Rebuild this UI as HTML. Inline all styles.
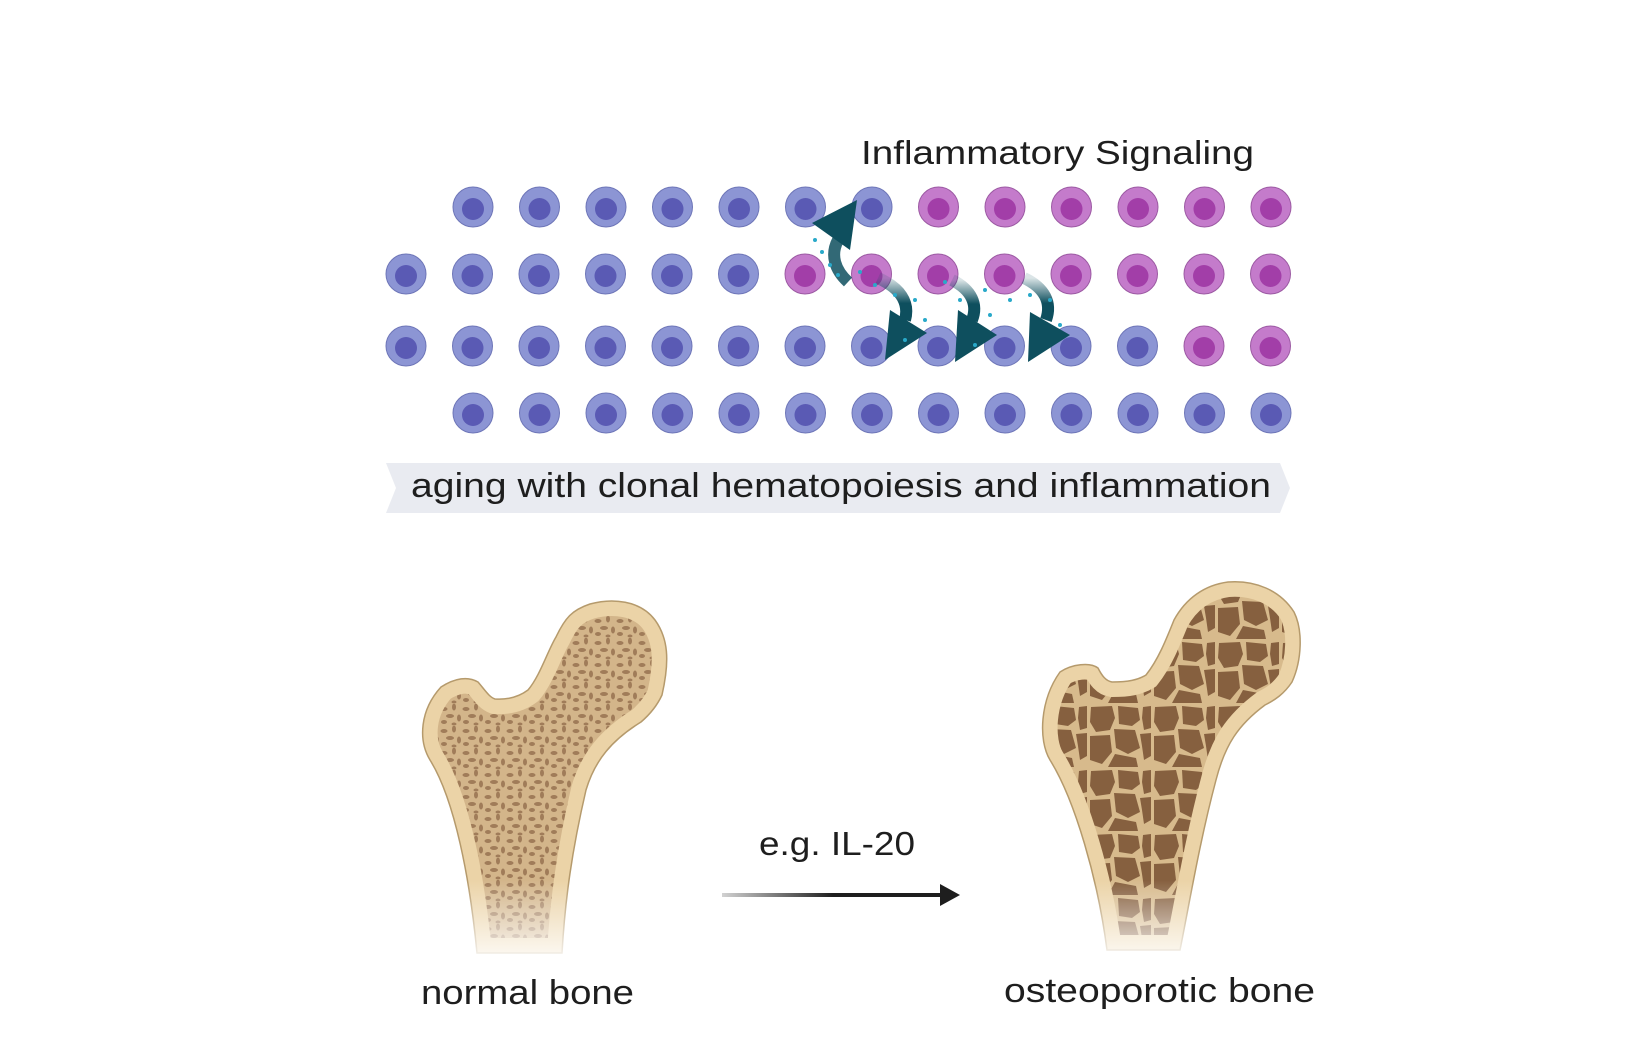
<!DOCTYPE html>
<html><head><meta charset="utf-8"><style>
html,body{margin:0;padding:0;background:#fff}
svg{display:block}
text{font-family:"Liberation Sans",sans-serif;fill:#1e1e1e}
</style></head><body>
<svg width="1649" height="1056" viewBox="0 0 1649 1056" xmlns="http://www.w3.org/2000/svg">
<defs>
<linearGradient id="wf" x1="0" y1="0" x2="0" y2="1"><stop offset="0" stop-color="#fff" stop-opacity="0"/><stop offset="1" stop-color="#fff" stop-opacity="1"/></linearGradient>
<linearGradient id="ar" x1="0" y1="0" x2="1" y2="0"><stop offset="0" stop-color="#1e1e1e" stop-opacity="0.2"/><stop offset="0.5" stop-color="#1e1e1e"/></linearGradient>
<linearGradient id="sh1" x1="0" y1="0" x2="0" y2="1"><stop offset="0" stop-color="#0e4f5e" stop-opacity="0.15"/><stop offset="0.6" stop-color="#0e4f5e"/></linearGradient>
<pattern id="pn" width="22" height="22" patternUnits="userSpaceOnUse">
<rect width="22" height="22" fill="#d3b58a"/>
<ellipse cx="4" cy="5" rx="3.5" ry="2" fill="#a07c59"/>
<ellipse cx="14" cy="3" rx="2" ry="3.5" fill="#a07c59"/>
<ellipse cx="10" cy="12" rx="4" ry="2" fill="#a07c59"/>
<ellipse cx="19" cy="14" rx="2" ry="3.5" fill="#a07c59"/>
<ellipse cx="4" cy="18" rx="3" ry="2" fill="#a07c59"/>
<ellipse cx="14" cy="20" rx="2.5" ry="1.5" fill="#a07c59"/>
</pattern>
<pattern id="po" width="64" height="64" patternUnits="userSpaceOnUse">
<rect width="64" height="64" fill="#d7ba8c"/>
<path d="M3,3 L24,2 L27,14 L22,26 L8,28 L2,18 Z" fill="#86603f"/>
<path d="M30,2 L50,4 L52,16 L44,22 L31,20 Z" fill="#86603f"/>
<path d="M55,3 L63,2 L63,24 L56,26 L54,14 Z" fill="#86603f"/>
<path d="M26,25 L47,26 L52,44 L40,50 L28,44 Z" fill="#86603f"/>
<path d="M52,30 L63,29 L63,52 L56,56 L54,42 Z" fill="#86603f"/>
<path d="M2,32 L22,31 L24,48 L14,60 L2,56 Z" fill="#86603f"/>
<path d="M27,50 L48,54 L50,63 L20,63 Z" fill="#86603f"/>
</pattern>
<path id="b1" d="M477,953 C470,880 455,800 430,760 C418,740 420,710 441,687 C455,678 468,676 478,682 C485,690 489,697 495,699 C510,700 520,696 528,690 C540,676 548,650 556,637 C565,618 572,610 590,604 C612,598 640,600 655,620 C668,638 670,660 662,695 C656,708 648,716 641,722 C612,740 595,760 586,790 C572,850 565,900 562,953 Z"/>
<path id="b2" d="M1107,950 C1098,880 1075,800 1050,760 C1038,740 1040,700 1060,672 C1072,664 1090,662 1098,668 C1102,676 1106,681 1112,682 C1128,682 1138,680 1146,675 C1158,660 1166,640 1174,620 C1186,598 1205,585 1228,582 C1255,580 1280,590 1294,612 C1303,630 1302,660 1292,682 C1284,694 1275,700 1265,705 C1238,725 1225,745 1216,780 C1200,840 1190,900 1180,950 Z"/>
<clipPath id="c1"><use href="#b1"/></clipPath>
<clipPath id="c2"><use href="#b2"/></clipPath>
</defs>

<text x="861" y="164" font-size="33" textLength="393" lengthAdjust="spacingAndGlyphs">Inflammatory Signaling</text>

<g id="cells"></g>

<!-- banner -->
<path d="M386,463 L1280,463 L1290,488 L1280,513 L386,513 L396,488 Z" fill="#e9ebf1"/>
<text x="411" y="497" font-size="34" textLength="860" lengthAdjust="spacingAndGlyphs">aging with clonal hematopoiesis and inflammation</text>

<!-- bones -->
<g clip-path="url(#c1)">
<use href="#b1" fill="url(#pn)"/>
<use href="#b1" fill="none" stroke="#ebd3a7" stroke-width="30"/>
</g>
<use href="#b1" fill="none" stroke="#b59a6c" stroke-width="1.5"/>
<g clip-path="url(#c2)">
<use href="#b2" fill="url(#po)"/>
<use href="#b2" fill="none" stroke="#ebd3a7" stroke-width="30"/>
</g>
<use href="#b2" fill="none" stroke="#b59a6c" stroke-width="1.5"/>
<rect x="400" y="880" width="300" height="90" fill="url(#wf)"/>
<rect x="1030" y="880" width="300" height="90" fill="url(#wf)"/>

<text x="759" y="855" font-size="33" textLength="156" lengthAdjust="spacingAndGlyphs">e.g. IL-20</text>
<rect x="722" y="893" width="222" height="4" fill="url(#ar)"/>
<polygon points="940,884 960,895 940,906" fill="#1e1e1e"/>
<text x="421" y="1004" font-size="34" textLength="213" lengthAdjust="spacingAndGlyphs">normal bone</text>
<text x="1004" y="1002" font-size="34" textLength="311" lengthAdjust="spacingAndGlyphs">osteoporotic bone</text>
</svg>
<script>
(function(){
var g=document.getElementById('cells'),ns='http://www.w3.org/2000/svg';
var rows=[{y:207,x0:473,n:13,p:[7,8,9,10,11,12]},{y:274,x0:406,n:14,p:[6,7,8,9,10,11,12,13]},{y:346,x0:406,n:14,p:[12,13]},{y:413,x0:473,n:13,p:[]}];
rows.forEach(function(r){for(var i=0;i<r.n;i++){var x=r.x0+i*66.5,pk=r.p.indexOf(i)>=0;
var c=document.createElementNS(ns,'ellipse');c.setAttribute('cx',x);c.setAttribute('cy',r.y);c.setAttribute('rx',20);c.setAttribute('ry',20);
c.setAttribute('fill',pk?'#c47bcb':'#8c95d4');c.setAttribute('stroke',pk?'#9c5aa3':'#6e76b8');c.setAttribute('stroke-width','1');g.appendChild(c);
var n=document.createElementNS(ns,'circle');n.setAttribute('cx',x);n.setAttribute('cy',r.y+2);n.setAttribute('r',11);n.setAttribute('fill',pk?'#a23ea8':'#5a5ab4');g.appendChild(n);}});
var s='<path d="M838,240 C830,255 835,270 848,282" fill="none" stroke="#0e4f5e" stroke-width="12" stroke-opacity="0.85"/>'+
'<polygon points="812,223 857,200 850,250" fill="#0e4f5e"/>'+
'<path d="M878,278 C900,288 910,302 905,320" fill="none" stroke="url(#sh1)" stroke-width="12"/>'+
'<polygon points="890,310 927,333 885,360" fill="#0e4f5e"/>'+
'<path d="M952,280 C972,290 978,305 972,320" fill="none" stroke="url(#sh1)" stroke-width="12"/>'+
'<polygon points="958,310 997,335 955,362" fill="#0e4f5e"/>'+
'<path d="M1024,278 C1045,288 1052,303 1046,320" fill="none" stroke="url(#sh1)" stroke-width="12"/>'+
'<polygon points="1030,312 1070,335 1028,362" fill="#0e4f5e"/>';
var dots=[[815,240],[822,252],[830,265],[838,275],[860,272],[875,285],[895,295],[915,300],[925,320],[945,282],[960,300],[985,290],[990,315],[1010,300],[1030,295],[1050,300],[1060,325],[905,340],[975,345]];
dots.forEach(function(d){s+='<circle cx="'+d[0]+'" cy="'+d[1]+'" r="2" fill="#29a9c9"/>';});
g.insertAdjacentHTML('beforeend',s);
})();
</script>
</body></html>
